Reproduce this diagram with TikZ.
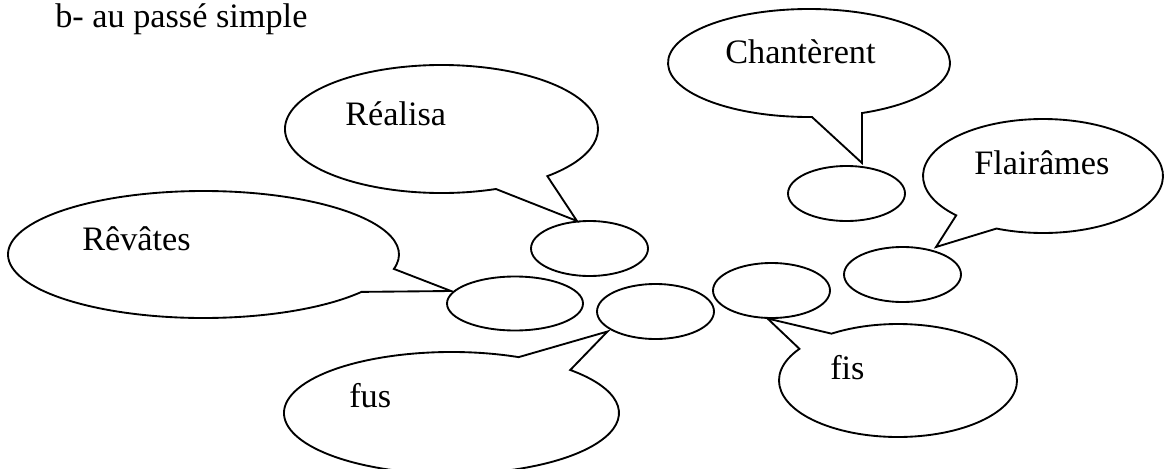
\documentclass[tikz,border=0pt]{standalone}
\usepackage{fontspec}
\setmainfont{Liberation Serif}
\usetikzlibrary{shapes.geometric}

\tikzset{
  outline/.style={draw=black, line width=1.4pt, line join=miter},
  blank/.style={ellipse, outline, inner sep=0pt,
                minimum width=87.75pt, minimum height=41.25pt},
  word/.style={anchor=base west, inner sep=0pt,
               font=\fontsize{25.7pt}{30pt}\selectfont},
}

% Speech bubble: elliptical rim with a pointed tail.
% #1,#2 centre (y downwards); #3,#4 radii; #5,#6 and #7,#8 where the tail
% leaves the rim; #9 the tail's tip.
\newcommand\speechbubble[9]{%
  \pgfmathsetmacro\angA{atan2(-(#6-#2)/#4,(#5-#1)/#3)}%
  \pgfmathsetmacro\angB{atan2(-(#8-#2)/#4,(#7-#1)/#3)}%
  \pgfmathsetmacro\spanAB{mod(\angA-\angB+720,360)}%
  \pgfmathsetmacro\angE{\spanAB>180 ? \angB+\spanAB : \angB+\spanAB-360}%
  \draw[outline] (#1,-#2) ++(\angB:#3 and #4)
    arc[start angle=\angB, end angle=\angE, x radius=#3, y radius=#4]
    -- (#9) -- cycle;
}

\begin{document}
\begin{tikzpicture}[x=0.75pt, y=0.75pt]
  \useasboundingbox (0,0) rectangle (1164,-468);
  \clip (0,0) rectangle (1164,-468);

  % heading
  \node[word] (title) at (55,-27) {b- au passé simple};

  % empty answer ellipses
  \node[blank] (eRealisa) at (589.5,-248.5) {};
  \node[blank] (eChant)   at (846.5,-193.5) {};
  \node[blank] (eFlair)   at (902.5,-274.5) {};
  \node[blank, minimum width=102pt, minimum height=40.5pt] (eRevat) at (515,-303.5) {};
  \node[blank] (eFus)     at (655.5,-311.5) {};
  \node[blank] (eFis)     at (771.5,-290.5) {};

  % tail tips
  \coordinate (tRealisa) at (577,-221);
  \coordinate (tChant)   at (862,-163);
  \coordinate (tFlair)   at (936,-247);
  \coordinate (tRevat)   at (451,-291);
  \coordinate (tFus)     at (607.5,-331.5);
  \coordinate (tFis)     at (767.5,-318.5);

  % speech bubbles
  \speechbubble{441.5}{129}{156.5}{64}{547}{176}{495}{188}{tRealisa}
  \speechbubble{809}{63}{141}{54}{864}{115}{812}{118}{tChant}
  \speechbubble{1043}{176}{120}{57}{997}{228}{957}{215}{tFlair}
  \speechbubble{203.5}{254.5}{195.5}{63.5}{395}{269}{362}{292}{tRevat}
  \speechbubble{451.5}{413}{167.5}{61}{573}{369}{520}{356}{tFus}
  \speechbubble{898}{380.5}{119}{56.5}{832}{334}{800}{349}{tFis}

  % bubble texts
  \node[word] (wRealisa) at (345,-125) {Réalisa};
  \node[word] (wChant)   at (725,-63)  {Chantèrent};
  \node[word] (wFlair)   at (974,-174) {Flairâmes};
  \node[word] (wRevat)   at (82,-250)  {Rêvâtes};
  \node[word] (wFus)     at (349,-407) {fus};
  \node[word] (wFis)     at (830,-379) {fis};
\end{tikzpicture}
\end{document}
